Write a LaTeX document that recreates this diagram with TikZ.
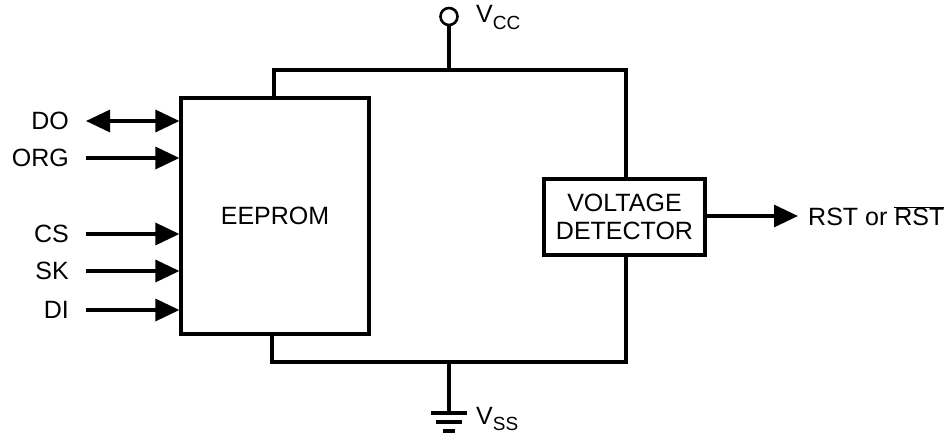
\documentclass[tikz,border=0pt]{standalone}
\usepackage{fontspec}
\setmainfont{Liberation Sans}
\usetikzlibrary{arrows.meta}
\begin{document}
\begin{tikzpicture}[x=1pt,y=-1pt,
  every node/.style={font=\fontsize{25}{29}\selectfont},
  tip/.tip={Triangle[length=24pt,width=22pt]},
  wire/.style={line width=3.2pt},
  sig/.style={line width=3.2pt,-tip},
  blk/.style={draw,line width=3.2pt,inner sep=0pt,align=center},
  lbl/.style={anchor=east,inner xsep=0pt,inner ysep=0pt}]
\useasboundingbox (0,0) rectangle (951,436);
% blocks
\node[blk,minimum width=188pt,minimum height=236pt] (eeprom) at (275,216) {EEPROM};
\node[blk,minimum width=161pt,minimum height=76pt] (vd) at (624.5,217) {VOLTAGE\\[-1pt]DETECTOR};
% rail coordinates
\coordinate (tl) at (274,70);
\coordinate (tr) at (626,70);
\coordinate (bl) at (272,362);
\coordinate (br) at (626,362);
\coordinate (vccj) at (449,70);
\coordinate (vssj) at (449,362);
% power rails
\draw[wire] (tl |- eeprom.north) -- (tl) -- (tr) -- (vd.north -| tr);
\draw[wire] (bl |- eeprom.south) -- (bl) -- (br) -- (vd.south -| br);
% VCC
\node[draw,circle,line width=2.6pt,minimum size=17pt,inner sep=0pt] (vcc) at (449,16.5) {};
\draw[wire] (vcc.south) -- (vccj);
\node[anchor=west,inner sep=0pt] (vcct) at (476,17) {V\raisebox{-7pt}{\fontsize{19}{20}\selectfont CC}};
% VSS ground
\coordinate (g1) at (449,413);
\draw[wire] (vssj) -- (g1);
\coordinate (g1l) at (431,413); \coordinate (g1r) at (467,413);
\coordinate (g2l) at (436,422); \coordinate (g2r) at (462,422);
\coordinate (g3l) at (443,431); \coordinate (g3r) at (455,431);
\draw[wire] (g1l) -- (g1r);
\draw[wire] (g2l) -- (g2r);
\draw[wire] (g3l) -- (g3r);
\node[anchor=west,inner sep=0pt] (vsst) at (476,419) {V\raisebox{-6pt}{\fontsize{19}{20}\selectfont SS}};
% input labels
\node[lbl] (do) at (69,121) {DO};
\node[lbl] (org) at (69,158) {ORG};
\node[lbl] (cs) at (69,234) {CS};
\node[lbl] (sk) at (69,271) {SK};
\node[lbl] (di) at (69,310) {DI};
\coordinate (dos) at (86,121);
\coordinate (orgs) at (86,158);
\coordinate (css) at (86,234);
\coordinate (sks) at (86,271);
\coordinate (dis) at (86,310);
\draw[line width=3.2pt,tip-tip] (dos) -- (dos -| eeprom.west);
\draw[sig] (orgs) -- (orgs -| eeprom.west);
\draw[sig] (css) -- (css -| eeprom.west);
\draw[sig] (sks) -- (sks -| eeprom.west);
\draw[sig] (dis) -- (dis -| eeprom.west);
% output
\coordinate (rsttip) at (798,216);
\draw[sig] (vd.east |- rsttip) -- (rsttip);
\node[anchor=west,inner sep=0pt] (rst) at (808,216) {RST or $\overline{\mbox{RST}}$};
\end{tikzpicture}
\end{document}
